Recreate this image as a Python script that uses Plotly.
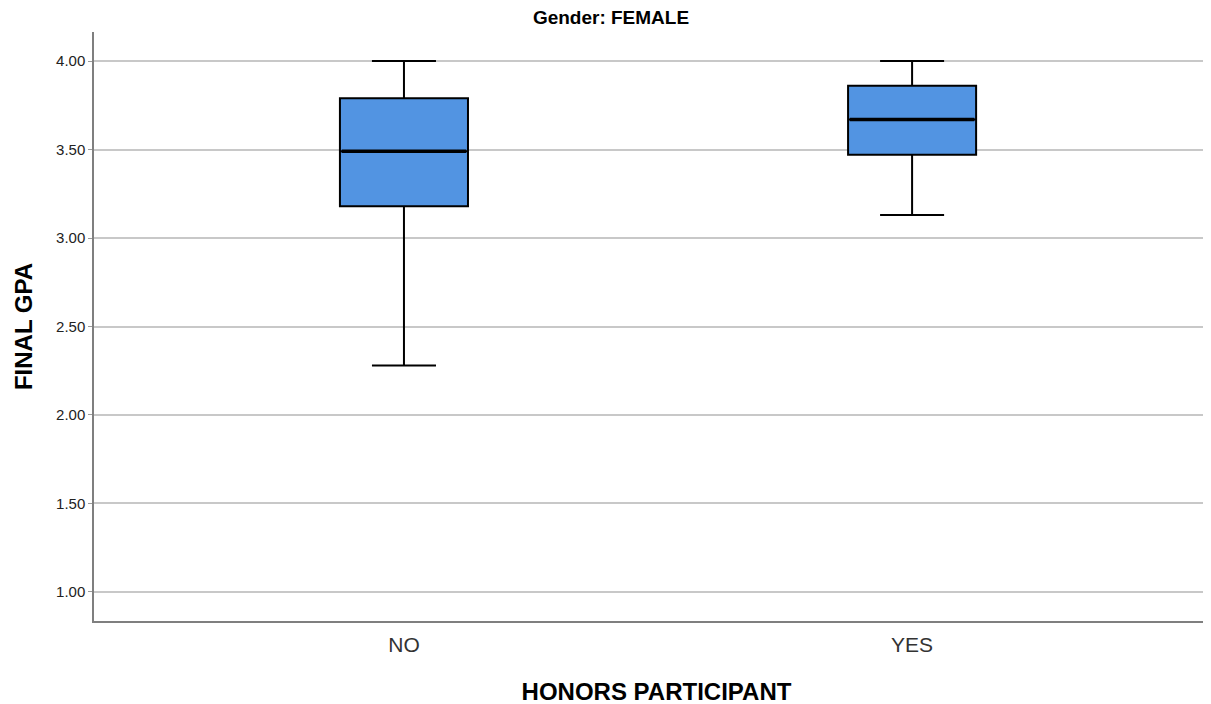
import plotly.graph_objects as go

categories = ["NO", "YES"]
q1 = [3.18, 3.47]
median = [3.49, 3.67]
q3 = [3.79, 3.86]
lower_whisker = [2.28, 3.13]
upper_whisker = [4.00, 4.00]
y_ticks = [1.00, 1.50, 2.00, 2.50, 3.00, 3.50, 4.00]

FONT = "Liberation Sans, Arial, sans-serif"
# page body has an 8px margin; compensate so the plot lands at the reference position
OFF = 8
W, H = 1211, 704

fig = go.Figure()
fig.add_trace(go.Box(
    x=categories,
    q1=q1, median=median, q3=q3,
    lowerfence=lower_whisker, upperfence=upper_whisker,
    fillcolor="#5294E2",
    line=dict(color="#000000", width=2),
    width=0.252,
    whiskerwidth=0.5,
    boxpoints=False,
    showlegend=False,
    hoverinfo="skip",
))
# thicker median line overlay
fig.add_trace(go.Box(
    x=categories,
    q1=median, median=median, q3=median,
    lowerfence=median, upperfence=median,
    fillcolor="rgba(0,0,0,0)",
    line=dict(color="#000000", width=3.5),
    width=0.245,
    whiskerwidth=0,
    boxpoints=False,
    showlegend=False,
    hoverinfo="skip",
))

fig.update_layout(
    width=W, height=H,
    paper_bgcolor="white", plot_bgcolor="white",
    boxmode="overlay",
    margin=dict(l=94 - OFF, r=0, t=32 - OFF, b=H - (621 - OFF)),
    font=dict(family=FONT, color="#000000"),
    title=dict(text="<b>Gender: FEMALE</b>", x=(611 - OFF) / W, xanchor="center",
               y=1 - (17 - OFF) / H, yanchor="middle", xref="container", yref="container",
               font=dict(size=19, family=FONT, color="#000000")),
    xaxis=dict(
        type="category", range=[-0.610, 1.604],
        showline=True, linecolor="#7f7f7f", linewidth=1.5,
        showgrid=False, ticks="", zeroline=False,
        tickfont=dict(size=21, color="#333333", family=FONT),
        ticklabelstandoff=4, automargin=False,
        title=dict(text="<b>HONORS PARTICIPANT</b>", font=dict(size=24, family=FONT, color="#000000"), standoff=28),
    ),
    yaxis=dict(
        range=[0.836, 4.164],
        tickvals=y_ticks, ticktext=[f"{v:.2f}" for v in y_ticks],
        showline=True, linecolor="#7f7f7f", linewidth=1.5,
        showgrid=True, gridcolor="#c8c8c8", gridwidth=1.5,
        ticks="outside", ticklen=4, tickcolor="#9a9a9a",
        zeroline=False, automargin=False,
        tickfont=dict(size=15, color="#222222", family=FONT),
        title=dict(text="<b>FINAL GPA</b>", font=dict(size=24, family=FONT, color="#000000"), standoff=17),
    ),
)

fig.write_html("out.html")
